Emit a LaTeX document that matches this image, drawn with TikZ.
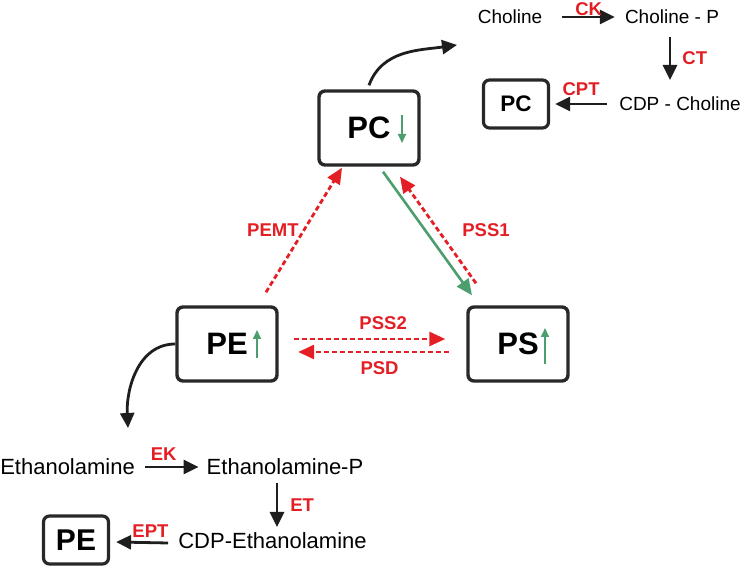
\documentclass[tikz,border=0pt]{standalone}
\usepackage{fontspec}
\setmainfont{Liberation Sans}
\usetikzlibrary{arrows.meta,calc}
\definecolor{vermelho}{RGB}{227,30,36}
\definecolor{verde}{RGB}{76,158,110}
\definecolor{cinza}{RGB}{40,40,40}
\definecolor{preto}{RGB}{30,30,30}
\begin{document}
\begin{tikzpicture}[x=1pt, y=1pt,
                caixa/.style={draw=cinza, line width=3.4pt, rounded corners=6pt, minimum width=100pt, minimum height=74pt, font=\bfseries\fontsize{31}{31}\selectfont},
                caixinha/.style={draw=cinza, line width=3.2pt, rounded corners=6pt, minimum width=65pt, minimum height=48pt, font=\bfseries\fontsize{#1}{#1}\selectfont},
                metab/.style={inner sep=0pt, font=\fontsize{#1}{#1}\selectfont},
                enzima/.style={text=vermelho, inner sep=1pt, font=\bfseries\fontsize{18.5}{18.5}\selectfont},
                seta/.style={draw=preto, line width=2.8pt, -{Triangle[length=15pt,width=14pt]}},
                tracejada/.style={draw=vermelho, line width=2.8pt, dash pattern=on 5pt off 3pt, -{Triangle[length=16pt,width=14pt]}},
                fluxo/.style={draw=verde, line width=2.6pt, -{Triangle[length=16pt,width=14pt]}},
                tendencia/.style={draw=verde, line width=2pt, -{Triangle[length=9pt,width=8pt]}},
            ]
            \useasboundingbox (0,0) rectangle (742,567);

            \node[caixa] (pc) at (369,439) {PC};
            \node[caixa] (pe) at (227,223) {PE};
            \node[caixa] (ps) at (518,223) {PS};

            \draw[tendencia] ($(pc.center)+(33,13)$) -- ($(pc.center)+(33,-15)$);
            \draw[tendencia] ($(pe.center)+(30,-14)$) -- ($(pe.center)+(30,14)$);
            \draw[tendencia] ($(ps.center)+(27,-20)$) -- ($(ps.center)+(27,16)$);

            \node[metab=19] (col) at (510,550) {Choline};
            \node[metab=19] (colp) at (672,550) {Choline - P};
            \node[metab=19] (cdpc) at (680,463) {CDP - Choline};
            \node[caixinha=22.5] (pc2) at (516,463) {PC};

            \node[metab=22, anchor=east] (eta) at (135,100) {Ethanolamine};
            \node[metab=22] (etap) at (285,100) {Ethanolamine-P};
            \node[metab=22] (cdpe) at (272.5,26) {CDP-Ethanolamine};
            \node[caixinha=30] (pe2) at (76,27) {PE};

            \coordinate (pcsai) at (457,522);
            \coordinate (pesai) at (128,139);

            \draw[seta] ($(pc.north)+(0,4)$) to[out=70, in=188] (pcsai);
            \draw[seta] (pe.west) to[out=180, in=93] (pesai);

            \draw[seta] ($(col.east)+(20,0)$) -- ($(colp.west)+(-10,0)$) node[enzima, midway, above=-1pt] {CK};
            \draw[seta] ($(colp.center)+(-2,-20)$) -- ($(cdpc.center)+(-10,24)$) node[enzima, midway, right=10pt] {CT};
            \draw[seta] ($(cdpc.west)+(-12,0)$) -- ($(pc2.east)+(5,0)$) node[enzima, midway, above=6pt] {CPT};

            \draw[seta] ($(eta.east)+(10,0)$) -- ($(etap.west)+(-8,0)$) node[enzima, pos=0.35, above=4pt] {EK};
            \draw[seta] ($(etap.center)+(-8,-16)$) -- ($(cdpe.center)+(4.5,14)$) node[enzima, midway, right=11pt] {ET};
            \draw[seta] ($(cdpe.west)+(-10,-2)$) -- ($(pe2.east)+(6,-2)$) node[enzima, pos=0.34, above=3pt] {EPT};

            \draw[tracejada] ($(pe.north)+(39,13)$) -- ($(pc.south)+(-27,-1)$) node[enzima, midway, left=3pt] {PEMT};
            \draw[fluxo] ($(pc.south)+(14,-5)$) -- ($(ps.north)+(-46,10)$);
            \draw[tracejada] ($(ps.north)+(-42,22)$) -- ($(pc.south)+(31,-10)$) node[enzima, midway, right=22pt] {PSS1};
            \draw[tracejada] ($(pe.east)+(15,5)$) -- ($(ps.west)+(-21,5)$) node[enzima, pos=0.59, above=7pt] {PSS2};
            \draw[tracejada] ($(ps.west)+(-17.5,-8)$) -- ($(pe.east)+(19.5,-8)$) node[enzima, pos=0.46, below=7pt] {PSD};
        \end{tikzpicture}
\end{document}
